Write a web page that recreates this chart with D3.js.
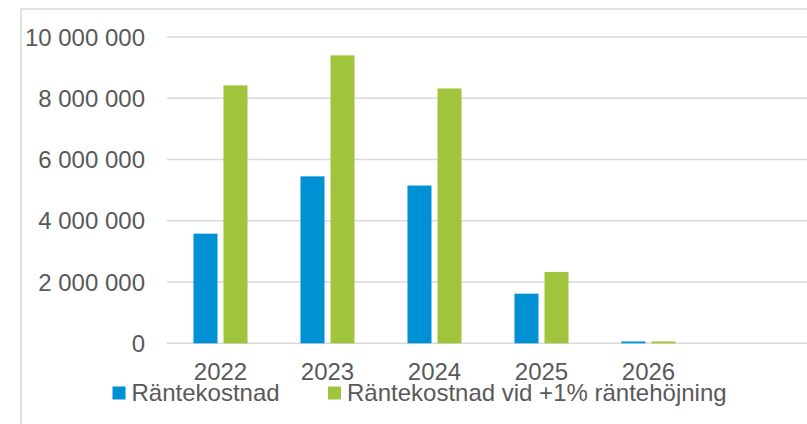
<!DOCTYPE html>
<html>
<head>
<meta charset="utf-8">
<script src="https://cdn.jsdelivr.net/npm/d3@7"></script>
<style>
  body { margin: 0; background: #fff; }
  text { font-family: "Liberation Sans", Arial, sans-serif; fill: #595959; }
</style>
</head>
<body>
<div id="plt"></div>
<script>
// chart data
var years = ["2022", "2023", "2024", "2025", "2026", ""];
var series = ["Räntekostnad", "Räntekostnad vid +1% räntehöjning"];
var rantekostnad = [3580000, 5450000, 5150000, 1620000, 60000, null];
var rantekostnadPlus = [8420000, 9400000, 8320000, 2330000, 60000, null];
var yTicks = [0, 2000000, 4000000, 6000000, 8000000, 10000000];
var colors = ["#0091d4", "#a0c43c"];

var W = 807, H = 424;
var margin = {top: 37, left: 167, right: -2, bottom: 80.7};

var svg = d3.select("#plt")
            .append("svg")
            .attr("width", W)
            .attr("height", H);

// outer chart border
svg.append("rect")
   .attr("x", 21).attr("y", 9)
   .attr("width", W).attr("height", H)
   .attr("fill", "none")
   .attr("stroke", "#d9d9d9")
   .attr("stroke-width", 1.5);

var x0 = d3.scaleBand()
           .domain(d3.range(years.length))
           .range([margin.left, W - margin.right])
           .paddingInner(0.495)
           .paddingOuter(0.2475);

var x1 = d3.scaleBand()
           .domain([0, 1])
           .range([0, x0.bandwidth()])
           .paddingInner(0.2);

var y = d3.scaleLinear()
          .domain([0, 10000000])
          .range([H - margin.bottom, margin.top]);

var fmt = function(v) { return d3.format(",")(v).replace(/,/g, " "); };

// gridlines
svg.append("g")
   .selectAll("line")
   .data(yTicks)
   .enter()
   .append("line")
   .attr("x1", margin.left)
   .attr("x2", W)
   .attr("y1", function(d) { return y(d); })
   .attr("y2", function(d) { return y(d); })
   .attr("stroke", "#d9d9d9")
   .attr("stroke-width", 1.5);

// y labels
svg.append("g")
   .selectAll("text")
   .data(yTicks)
   .enter()
   .append("text")
   .attr("x", 145)
   .attr("y", function(d) { return y(d) + 8.5; })
   .attr("text-anchor", "end")
   .style("font-size", "24px")
   .text(fmt);

// x labels
svg.append("g")
   .selectAll("text")
   .data(years)
   .enter()
   .append("text")
   .attr("x", function(d, i) { return x0(i) + x0.bandwidth() / 2; })
   .attr("y", 379.5)
   .attr("text-anchor", "middle")
   .style("font-size", "24px")
   .text(function(d) { return d; });

// bars
[rantekostnad, rantekostnadPlus].forEach(function(vals, s) {
  var pts = vals.map(function(v, i) { return {i: i, v: v}; })
                .filter(function(d) { return d.v != null; });
  svg.append("g")
     .selectAll("rect")
     .data(pts)
     .enter()
     .append("rect")
     .attr("x", function(d) { return x0(d.i) + x1(s); })
     .attr("y", function(d) { return y(d.v); })
     .attr("width", x1.bandwidth())
     .attr("height", function(d) { return y(0) - y(d.v); })
     .attr("fill", colors[s]);
});

// legend
var legendX = [112.5, 328];
var leg = svg.append("g")
             .selectAll("g")
             .data(series)
             .enter()
             .append("g")
             .attr("transform", function(d, i) { return "translate(" + legendX[i] + ",386.5)"; });
leg.append("rect")
   .attr("width", 13).attr("height", 13)
   .attr("fill", function(d, i) { return colors[i]; });
leg.append("text")
   .attr("x", 19).attr("y", 14.5)
   .style("font-size", "24px")
   .text(function(d) { return d; });
</script>
</body>
</html>
